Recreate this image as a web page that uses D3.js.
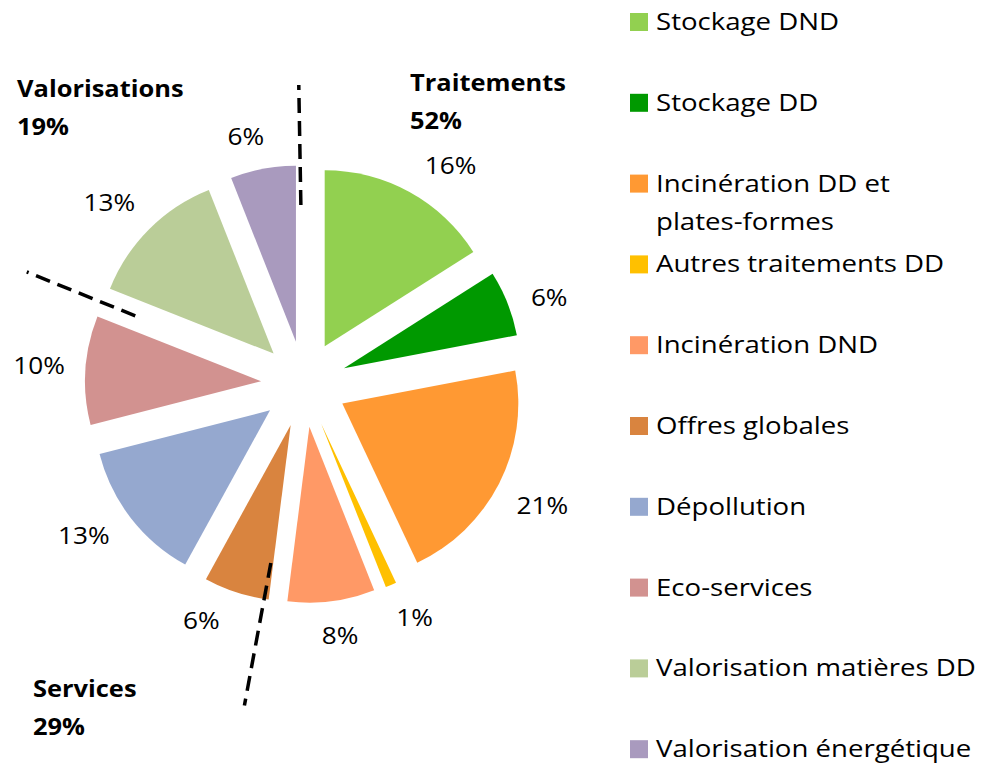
<!DOCTYPE html>
<html>
<head>
<meta charset="utf-8">
<script src="https://cdn.jsdelivr.net/npm/d3@7"></script>
<style>
  body { margin: 0; background: #fff; }
  text { font-family: "Open Sans", sans-serif; fill: #000; }
</style>
</head>
<body>
<script>
// data
var categories = ["Stockage DND", "Stockage DD", "Incinération DD et plates-formes",
    "Autres traitements DD", "Incinération DND", "Offres globales", "Dépollution",
    "Eco-services", "Valorisation matières DD", "Valorisation énergétique"];
var values = [16, 6, 21, 1, 8, 6, 13, 10, 13, 6];
var colors = ["#92D050", "#009900", "#FF9933", "#FFC000", "#FF9966", "#D9843F",
    "#95A8CF", "#D29290", "#BACD98", "#A99ABE"];

var groupNames = ["Traitements", "Services", "Valorisations"];
var groupSizes = [5, 3, 2];   // number of categories in each group, in order

var w = 982, h = 766;
var cx = 304, cy = 384, R = 176, explode = 43;

// small angle tweaks (degrees) for labels and separator lines, as placed in the original
var labelNudge = [5, 2, 0, -2, -1, 5.5, 3.3, 0.4, -2, -2.4];
var sepNudge = [-1, 3.3, 0.4];
var sepRadii = [[179, 299], [182, 327], [182, 299]];
var groupLabelPos = [[410, 91], [33, 697], [17, 97]];

var svg = d3.select("body").append("svg")
    .attr("width", w)
    .attr("height", h);

var pie = d3.pie().sort(null).value(function(d){ return d; });
var arcs = pie(values);
var arc = d3.arc().innerRadius(0).outerRadius(R);

function mid(d){ return (d.startAngle + d.endAngle) / 2; }

var chart = svg.append("g").attr("transform", "translate(" + cx + "," + cy + ")");

chart.selectAll(".slice")
    .data(arcs)
    .enter().append("path")
    .attr("class", "slice")
    .attr("d", arc)
    .attr("fill", function(d, i){ return colors[i]; })
    .attr("transform", function(d){
        var a = mid(d);
        return "translate(" + (explode * Math.sin(a)) + "," + (-explode * Math.cos(a)) + ")";
    });

// percent labels, outside end
var pctSize = 24.5, pctSx = 1.07;
var total = d3.sum(values);
var labels = chart.selectAll(".pct")
    .data(arcs)
    .enter().append("g")
    .attr("class", "pct");
labels.append("text")
    .attr("text-anchor", "middle")
    .attr("dy", "0.36em")
    .style("font-size", pctSize + "px")
    .attr("transform", "scale(" + pctSx + ",1)")
    .text(function(d){ return Math.round(d.value / total * 100) + "%"; });
labels.attr("transform", function(d, i){
    var a = mid(d) + labelNudge[i] * Math.PI / 180;
    var tw = this.querySelector("text").getComputedTextLength() * pctSx;
    var ext = tw / 2 * Math.abs(Math.sin(a)) + 12 * Math.abs(Math.cos(a));
    var r = explode + R + 20 + ext;
    return "translate(" + (r * Math.sin(a)) + "," + (-r * Math.cos(a)) + ")";
});

// dashed separators between groups
var bounds = [];
var k = 0;
groupSizes.forEach(function(n){ bounds.push(arcs[k].startAngle); k += n; });
chart.selectAll(".sep")
    .data(bounds)
    .enter().append("line")
    .attr("class", "sep")
    .each(function(b, i){
        var a = b + sepNudge[i] * Math.PI / 180;
        d3.select(this)
            .attr("x1", sepRadii[i][0] * Math.sin(a))
            .attr("y1", -sepRadii[i][0] * Math.cos(a))
            .attr("x2", sepRadii[i][1] * Math.sin(a))
            .attr("y2", -sepRadii[i][1] * Math.cos(a));
    })
    .attr("stroke", "#000")
    .attr("stroke-width", 3.5)
    .attr("stroke-dasharray", "15,8");

// group titles
var boldSx = 1.06;
k = 0;
groupNames.forEach(function(name, i){
    var s = d3.sum(values.slice(k, k + groupSizes[i]));
    k += groupSizes[i];
    var g = svg.append("g")
        .attr("transform", "translate(" + groupLabelPos[i][0] + "," + groupLabelPos[i][1] + ")");
    var t = g.append("text")
        .attr("transform", "scale(" + boldSx + ",1)")
        .style("font-size", "24px")
        .style("font-weight", "bold");
    t.append("tspan").attr("x", 0).attr("y", 0).text(name);
    t.append("tspan").attr("x", 0).attr("y", 38).text(Math.round(s / total * 100) + "%");
});

// legend
var legSx = 1.2, legSize = 23, legTop = 30, legStep = 80.8, legX = 630, maxW = 325;
var legend = svg.append("g").attr("class", "legend");
categories.forEach(function(name, i){
    var y = legTop + i * legStep;
    legend.append("rect")
        .attr("x", legX).attr("y", y - 17)
        .attr("width", 18).attr("height", 18)
        .attr("fill", colors[i]);
    var g = legend.append("g").attr("transform", "translate(" + (legX + 26) + "," + y + ")");
    var t = g.append("text")
        .attr("transform", "scale(" + legSx + ",1)")
        .style("font-size", legSize + "px");
    var words = name.split(" "), line = [], ln = 0;
    var span = t.append("tspan").attr("x", 0).attr("y", 0);
    words.forEach(function(wd){
        line.push(wd);
        span.text(line.join(" "));
        if (span.node().getComputedTextLength() * legSx > maxW && line.length > 1) {
            line.pop();
            span.text(line.join(" "));
            line = [wd];
            ln++;
            span = t.append("tspan").attr("x", 0).attr("y", ln * 38).text(wd);
        }
    });
});
</script>
</body>
</html>
